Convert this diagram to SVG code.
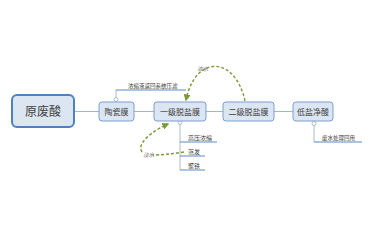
<svg xmlns="http://www.w3.org/2000/svg" width="375" height="225" viewBox="0 0 375 225">
<style>
.node rect{fill:#dce6f2;stroke:#7a9fd0;stroke-width:1}
.main rect{stroke:#4f81bd;stroke-width:2}
text{font-family:"Noto Sans CJK SC","Noto Sans",sans-serif;fill:#404040}
.t{font-size:8px;text-anchor:middle}
.s{font-size:5.5px}
.s6{font-size:6px}
.lab{font-size:5.5px;font-style:italic;fill:#666}
.link{stroke:#9bb7dc;stroke-width:1;fill:none}
.ul{stroke:#5b87c5;stroke-width:1.2;fill:none}
.stem{stroke:#9aa8b8;stroke-width:0.8;fill:none}
.dash{stroke:#7a9a3a;stroke-width:1.4;fill:none;stroke-dasharray:3 2}
.dot{fill:#fff;stroke:#9aa8b8;stroke-width:0.8}
</style>
<defs>
<marker id="ah" viewBox="0 0 10 10" refX="8" refY="5" markerWidth="5" markerHeight="5" orient="auto">
<path d="M0,0 L10,5 L0,10 z" fill="#7a9a3a"/>
</marker>
</defs>
<rect width="375" height="225" fill="#fff"/>
<g id="connectors">
<line class="link" x1="74" y1="111.5" x2="99" y2="111.5"/>
<line class="link" x1="134" y1="111.5" x2="154" y2="111.5"/>
<line class="link" x1="206" y1="111.5" x2="223" y2="111.5"/>
<line class="link" x1="274" y1="111.5" x2="293" y2="111.5"/>
<path class="stem" d="M116,98 V90"/>
<path class="ul" d="M116,90 H186"/>
<path class="stem" d="M180,124 V170"/>
<path class="ul" d="M180,142 H217 M180,156 H205 M180,170 H205"/>
<path class="stem" d="M314,125 V142"/>
<path class="ul" d="M314,142 H362"/>
<path class="dash" d="M245,101 C235,55 195,55 186,100" marker-end="url(#ah)"/>
<path class="dash" d="M184,152 C172,154 160,155 153,155 M142,152 C136,144 152,131 168,124" marker-end="url(#ah)"/>
<circle class="dot" cx="116" cy="99.5" r="2"/>
<circle class="dot" cx="180" cy="122.5" r="2"/>
<circle class="dot" cx="314" cy="123.5" r="2"/>
</g>
<g id="n-yuanfeisuan" class="node main">
<rect x="12" y="95" width="62" height="32" rx="5"/>
<text x="43" y="115.5" style="font-size:12px;text-anchor:middle">原废酸</text>
</g>
<g id="n-taocimo" class="node">
<rect x="99" y="102" width="35" height="19" rx="3"/>
<text class="t" x="116.5" y="114.5">陶瓷膜</text>
</g>
<g id="n-yiji" class="node">
<rect x="154" y="102" width="52" height="19" rx="3"/>
<text class="t" x="180" y="114.5">一级脱盐膜</text>
</g>
<g id="n-erji" class="node">
<rect x="223" y="102" width="51" height="19" rx="3"/>
<text class="t" x="248.5" y="114.5">二级脱盐膜</text>
</g>
<g id="n-diyan" class="node">
<rect x="293" y="102" width="40" height="19" rx="3"/>
<text class="t" x="313" y="114.5">低盐净酸</text>
</g>
<g id="labels">
<text class="s" x="128" y="87.5">浓缩液返回系统压滤</text>
<text class="s6" x="188" y="139.5">高压浓缩</text>
<text class="s6" x="188" y="153.5">蒸发</text>
<text class="s6" x="188" y="167.5">聚铁</text>
<text class="s" x="322" y="139.5">废水处理回用</text>
<text class="lab" x="197" y="71">浓水</text>
<text class="lab" x="143" y="157">淡水</text>
</g>
</svg>
